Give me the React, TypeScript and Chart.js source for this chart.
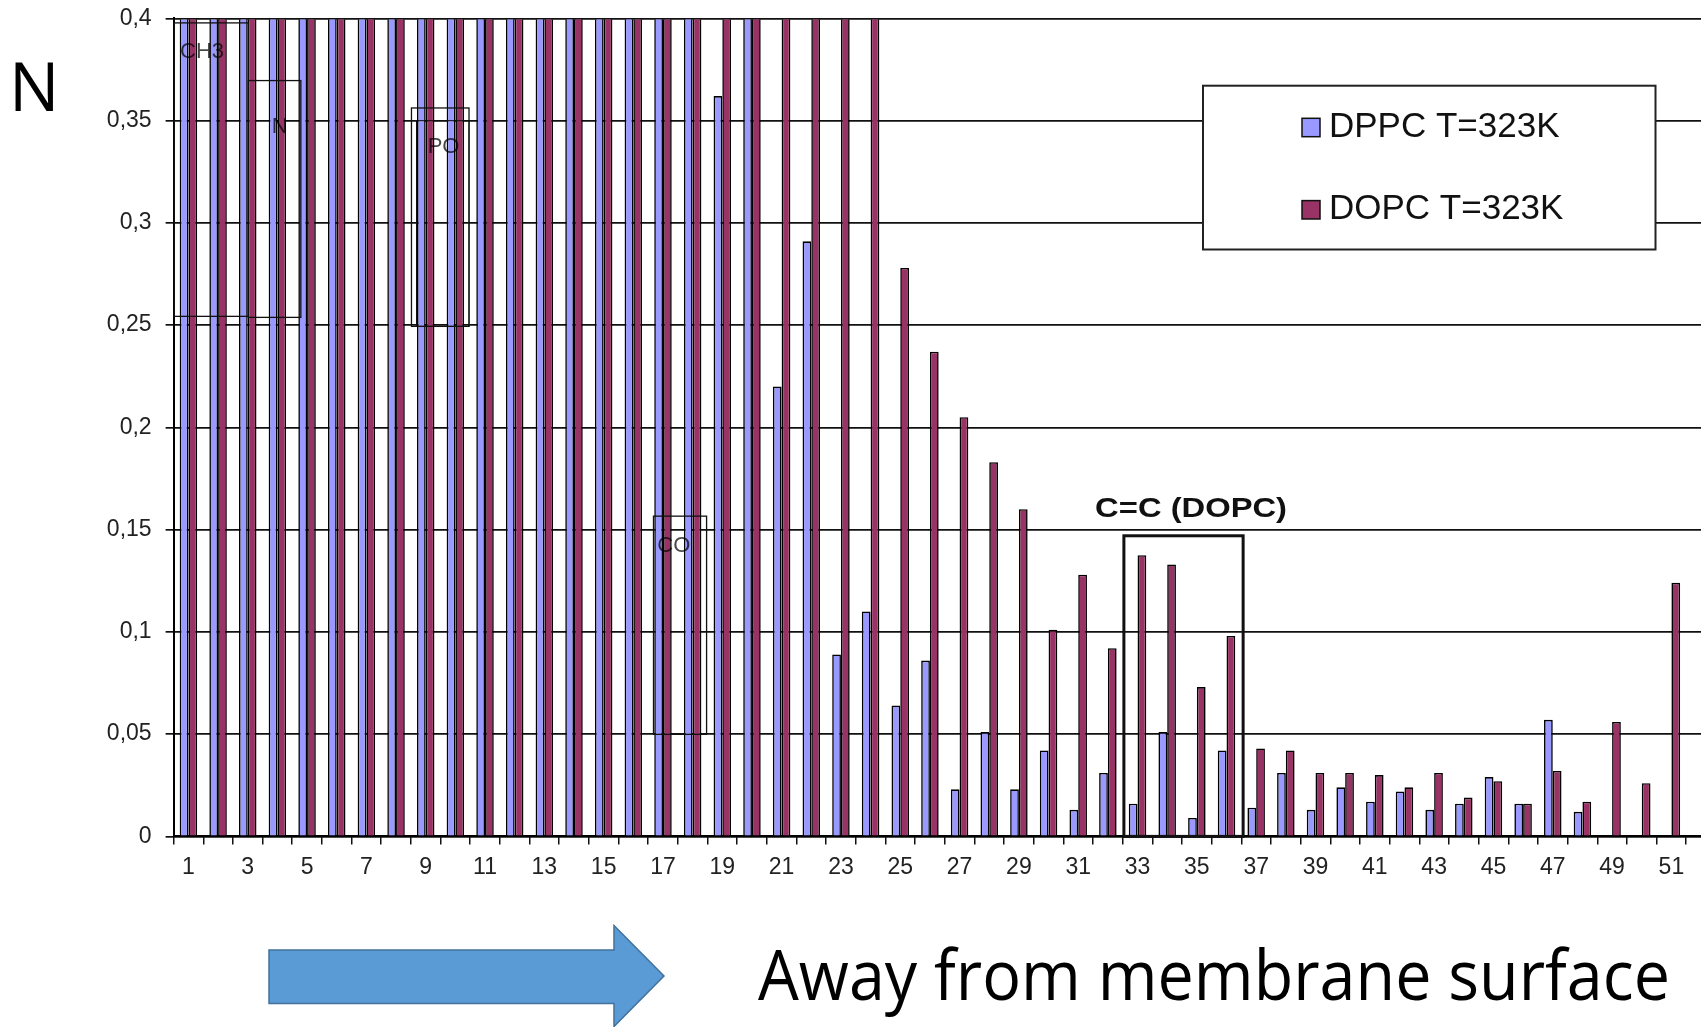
import React, { useEffect, useRef } from 'react';
import { Chart, registerables } from 'chart.js';

Chart.register(...registerables);

// Atom position index along the lipid chain
const positions = [
  '1', '2', '3', '4', '5', '6', '7', '8', '9', '10',
  '11', '12', '13', '14', '15', '16', '17', '18', '19', '20',
  '21', '22', '23', '24', '25', '26', '27', '28', '29', '30',
  '31', '32', '33', '34', '35', '36', '37', '38', '39', '40',
  '41', '42', '43', '44', '45', '46', '47', '48', '49', '50',
  '51', '52',
];

// Values of 0.5 lie above the 0,4 axis limit and are shown clipped at the top.
const dppc = [
  0.5, 0.5, 0.5, 0.5, 0.5, 0.5, 0.5, 0.5, 0.5, 0.5,
  0.5, 0.5, 0.5, 0.5, 0.5, 0.5, 0.5, 0.5, 0.362, 0.5,
  0.22, 0.291, 0.089, 0.11, 0.064, 0.086, 0.023, 0.051, 0.023, 0.042,
  0.013, 0.031, 0.016, 0.051, 0.009, 0.042, 0.014, 0.031, 0.013, 0.024,
  0.017, 0.022, 0.013, 0.016, 0.029, 0.016, 0.057, 0.012, 0, 0,
  0, 0,
];

const dopc = [
  0.5, 0.5, 0.5, 0.5, 0.5, 0.5, 0.5, 0.5, 0.5, 0.5,
  0.5, 0.5, 0.5, 0.5, 0.5, 0.5, 0.5, 0.5, 0.5, 0.5,
  0.5, 0.5, 0.5, 0.5, 0.278, 0.237, 0.205, 0.183, 0.16, 0.101,
  0.128, 0.092, 0.1375, 0.133, 0.073, 0.098, 0.043, 0.042, 0.031, 0.031,
  0.03, 0.024, 0.031, 0.019, 0.027, 0.016, 0.032, 0.017, 0.056, 0.026,
  0.124, 0.052,
];

const seriesNames = ['DPPC T=323K', 'DOPC T=323K'];
const seriesColors = ['#9999FF', '#993366'];

const yTickLabels = ['0', '0,05', '0,1', '0,15', '0,2', '0,25', '0,3', '0,35', '0,4'];

// Chemical group regions, in category-index / value units
const groupBoxes = [
  { x0: -0.48, x1: 2.02, y0: 0.2543, y1: 0.3978, lw: 1.3 },
  { x0: 2.02, x1: 3.79, y0: 0.2538, y1: 0.3696, lw: 1.3 },
  { x0: 7.52, x1: 9.46, y0: 0.2494, y1: 0.3562, lw: 1.3 },
  { x0: 7.69, x1: 9.46, y0: 0.2494, y1: 0.35, lw: 1.0 },
  { x0: 15.68, x1: 17.47, y0: 0.0499, y1: 0.1566, lw: 1.3 },
  { x0: 31.54, x1: 35.56, y0: 0, y1: 0.147, lw: 3 },
];

const groupLabels = [
  { text: 'CH3', x: -0.284, y: 0.3807 },
  { text: 'N', x: 2.807, y: 0.344 },
  { text: 'PO', x: 8.067, y: 0.3343 },
  { text: 'CO', x: 15.81, y: 0.1393 },
];

const doubleBondLabel = { text: 'C=C (DOPC)', x0: 30.57, x1: 37.04, y: 0.1564 };

const FONT = '"Liberation Sans", Arial, sans-serif';

const overlayPlugin = {
  id: 'groupOverlay',
  afterDatasetsDraw(chart: any) {
    const { ctx } = chart;
    const xs = chart.scales.x;
    const ys = chart.scales.y;
    ctx.save();
    ctx.strokeStyle = '#111';
    for (const b of groupBoxes) {
      const l = xs.getPixelForValue(b.x0);
      const r = xs.getPixelForValue(b.x1);
      const t = ys.getPixelForValue(b.y1);
      const bt = ys.getPixelForValue(b.y0);
      ctx.lineWidth = b.lw;
      ctx.strokeRect(l, t, r - l, bt - t);
    }
    ctx.font = `22px ${FONT}`;
    ctx.fillStyle = 'rgba(0,0,0,0.72)';
    ctx.textAlign = 'left';
    ctx.textBaseline = 'alphabetic';
    for (const g of groupLabels) {
      ctx.fillText(g.text, xs.getPixelForValue(g.x), ys.getPixelForValue(g.y));
    }
    // Double-bond region caption, fitted to its span
    ctx.font = `bold 28px ${FONT}`;
    ctx.fillStyle = '#111';
    const px0 = xs.getPixelForValue(doubleBondLabel.x0);
    const span = xs.getPixelForValue(doubleBondLabel.x1) - px0;
    const w = ctx.measureText(doubleBondLabel.text).width;
    ctx.translate(px0, ys.getPixelForValue(doubleBondLabel.y));
    ctx.scale(span / w, 1);
    ctx.fillText(doubleBondLabel.text, 0, 0);
    ctx.restore();
  },
  afterDraw(chart: any) {
    const { ctx } = chart;
    const box = { left: 1203, top: 85.7, right: 1655.5, bottom: 249.5 };
    ctx.save();
    ctx.fillStyle = '#fff';
    ctx.fillRect(box.left, box.top, box.right - box.left, box.bottom - box.top);
    ctx.lineWidth = 2;
    ctx.strokeStyle = '#222';
    ctx.strokeRect(box.left, box.top, box.right - box.left, box.bottom - box.top);
    const baselines = [136.7, 219];
    ctx.font = `35px ${FONT}`;
    ctx.textAlign = 'left';
    ctx.textBaseline = 'alphabetic';
    chart.data.datasets.forEach((ds: any, i: number) => {
      const base = baselines[i];
      ctx.fillStyle = ds.backgroundColor;
      ctx.fillRect(1302, base - 18.4, 18, 18.4);
      ctx.lineWidth = 1.5;
      ctx.strokeStyle = '#111';
      ctx.strokeRect(1302, base - 18.4, 18, 18.4);
      ctx.fillStyle = '#111';
      ctx.fillText(ds.label, 1329, base);
    });
    ctx.restore();
  },
};

export default function App() {
  const canvasRef = useRef<HTMLCanvasElement | null>(null);

  useEffect(() => {
    document.body.style.margin = '0';
    const canvas = canvasRef.current;
    if (!canvas) return;
    const barCommon = {
      borderColor: '#000',
      borderWidth: 1.6,
      categoryPercentage: 0.59,
      barPercentage: 1,
      clip: { left: 0, top: -1, right: 0, bottom: 0 },
    };
    const chart = new Chart(canvas, {
      type: 'bar',
      data: {
        labels: positions,
        datasets: [
          { ...barCommon, label: seriesNames[0], data: dppc, backgroundColor: seriesColors[0] },
          { ...barCommon, label: seriesNames[1], data: dopc, backgroundColor: seriesColors[1] },
        ],
      },
      options: {
        responsive: false,
        animation: false,
        devicePixelRatio: 1,
        layout: { padding: { top: 18.4, right: 4.1, bottom: 0, left: 0 } },
        plugins: { legend: { display: false }, tooltip: { enabled: false } },
        scales: {
          x: {
            type: 'category',
            offset: true,
            grid: {
              offset: true,
              drawOnChartArea: false,
              drawTicks: true,
              tickLength: 8,
              color: '#111',
              lineWidth: 1.5,
            },
            border: { display: true, color: '#000', width: 2 },
            ticks: {
              autoSkip: false,
              maxRotation: 0,
              minRotation: 0,
              padding: 9,
              color: '#222',
              font: { family: FONT, size: 23 },
              callback: (_v: any, i: number) => (i % 2 === 0 ? positions[i] : ''),
            },
            afterFit: (s: any) => {
              s.height = 43.6;
              s.paddingLeft = 0;
              s.paddingRight = 0;
            },
          },
          y: {
            min: 0,
            max: 0.4,
            ticks: {
              stepSize: 0.05,
              padding: 14,
              color: '#222',
              font: { family: FONT, size: 23 },
              callback: (_v: any, i: number) => yTickLabels[i],
            },
            grid: { color: '#111', lineWidth: 1.7, tickLength: 8, drawTicks: true },
            border: { display: true, color: '#000', width: 2 },
            afterFit: (s: any) => {
              s.width = 173.6;
              s.paddingTop = 0;
              s.paddingBottom = 0;
            },
          },
        },
      },
      plugins: [overlayPlugin],
    } as any);
    return () => chart.destroy();
  }, []);

  return (
    <div
      style={{
        position: 'fixed',
        left: 0,
        top: 0,
        width: 1701,
        height: 1027,
        overflow: 'hidden',
        background: '#fff',
      }}
    >
      <canvas
        ref={canvasRef}
        width={1720}
        height={880}
        style={{ position: 'absolute', left: 0, top: 0, width: 1720, height: 880 }}
      />
      <svg
        width={1701}
        height={1027}
        style={{ position: 'absolute', left: 0, top: 0, pointerEvents: 'none' }}
      >
        <text x={9} y={111} fontFamily="Open Sans" fontSize={67} fill="#000">
          N
        </text>
        <polygon
          points="269,950 614,950 614,925.5 664,976 614,1026.5 614,1003.5 269,1003.5"
          fill="#5B9BD5"
          stroke="#41719C"
          strokeWidth={1.5}
        />
        <text
          x={758}
          y={1000}
          fontFamily="Open Sans"
          fontSize={70}
          textLength={912}
          lengthAdjust="spacingAndGlyphs"
          fill="#000"
        >
          Away from membrane surface
        </text>
      </svg>
    </div>
  );
}
